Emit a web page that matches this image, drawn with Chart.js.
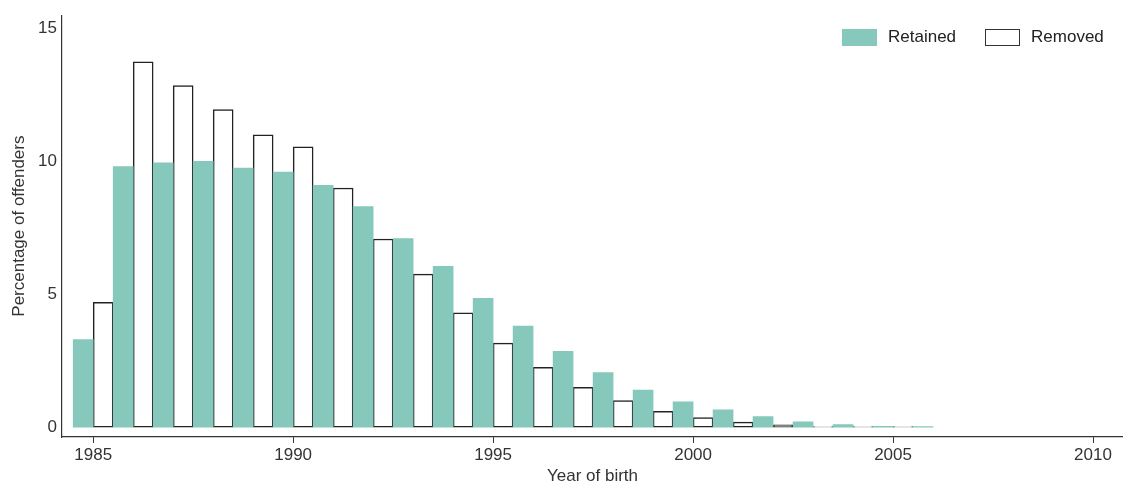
<!DOCTYPE html>
<html>
<head>
<meta charset="utf-8">
<script src="https://cdn.jsdelivr.net/npm/chart.js@4"></script>
<style>
  html, body { margin: 0; padding: 0; background: #fff; }
  #wrap { position: relative; width: 1123px; height: 483px; }
  #legend { position: absolute; top: 27px; left: 842px; font: 17px "Liberation Sans", Arial, sans-serif; color: #222; white-space: nowrap; }
  #legend span.item { display: inline-block; margin-right: 29px; }
  #legend span.box { display: inline-block; width: 35px; height: 17px; vertical-align: middle; margin-right: 11px; box-sizing: border-box; }
</style>
</head>
<body>
<div id="wrap">
  <canvas id="birthChart" width="1123" height="483"></canvas>
  <div id="legend"></div>
</div>
<script>
// year of birth and percentage of offenders per group
var years = [1985, 1986, 1987, 1988, 1989, 1990, 1991, 1992, 1993, 1994, 1995,
             1996, 1997, 1998, 1999, 2000, 2001, 2002, 2003, 2004, 2005, 2006];
var retained = [3.3, 9.8, 9.95, 10.0, 9.75, 9.6, 9.1, 8.3, 7.1, 6.05, 4.85,
                3.8, 2.85, 2.05, 1.4, 0.95, 0.65, 0.4, 0.2, 0.1, 0.03, 0.02];
var removed = [4.7, 13.75, 12.85, 11.95, 11.0, 10.55, 9.0, 7.08, 5.76, 4.3, 3.16,
               2.25, 1.5, 1.0, 0.6, 0.36, 0.19, 0.09, 0.02, 0.02, 0.02, null];
var seriesNames = ['Retained', 'Removed'];
var xTicks = [1985, 1990, 1995, 2000, 2005, 2010];
var yTicks = [0, 5, 10, 15];

var font = '"Liberation Sans", Arial, sans-serif';
var ink = '#333';

function points(values) {
    return years.map(function (yr, i) { return { x: yr, y: values[i] }; });
}

var ctx = document.getElementById('birthChart').getContext('2d');
var chart = new Chart(ctx, {
    type: 'bar',
    data: {
        datasets: [{
            label: seriesNames[0],
            data: points(retained),
            backgroundColor: '#86c8bb',
            borderWidth: 0,
            categoryPercentage: 1,
            barPercentage: 1
        }, {
            label: seriesNames[1],
            data: points(removed),
            backgroundColor: '#ffffff',
            borderColor: '#222',
            borderWidth: 1.5,
            borderSkipped: false,
            categoryPercentage: 1,
            barPercentage: 1
        }]
    },
    options: {
        responsive: false,
        animation: false,
        layout: { padding: { top: 13, left: 0, right: 0, bottom: 0 } },
        plugins: { legend: { display: false }, tooltip: { enabled: false } },
        scales: {
            x: {
                type: 'linear',
                offset: false,
                min: 1984.22,
                max: 2010.75,
                afterFit: function (s) { s.height = 46; },
                afterBuildTicks: function (s) { s.ticks = xTicks.map(function (v) { return { value: v }; }); },
                grid: { display: true, offset: false, drawOnChartArea: false, drawTicks: true, tickLength: 6, color: ink },
                border: { display: true, color: ink, width: 1.2 },
                ticks: {
                    padding: 2,
                    color: ink,
                    font: { family: font, size: 17 },
                    maxRotation: 0,
                    callback: function (v) { return String(v); }
                },
                title: {
                    display: true,
                    text: 'Year of birth',
                    color: ink,
                    font: { family: font, size: 17, lineHeight: 0.8 },
                    padding: { top: 0, bottom: 0 }
                }
            },
            y: {
                min: -0.37,
                max: 15.5,
                afterFit: function (s) { s.width = 62; },
                afterBuildTicks: function (s) { s.ticks = yTicks.map(function (v) { return { value: v }; }); },
                grid: { display: false, drawTicks: false },
                border: { display: true, color: ink, width: 1.2 },
                ticks: {
                    padding: 5,
                    color: ink,
                    font: { family: font, size: 17 },
                    callback: function (v) { return String(v); }
                },
                title: {
                    display: true,
                    text: 'Percentage of offenders',
                    color: ink,
                    font: { family: font, size: 17, lineHeight: 1 },
                    padding: { top: 11, bottom: 0 }
                }
            }
        }
    }
});

// legend built from the datasets
var legend = document.getElementById('legend');
chart.data.datasets.forEach(function (ds) {
    var item = document.createElement('span');
    item.className = 'item';
    var box = document.createElement('span');
    box.className = 'box';
    box.style.background = ds.backgroundColor;
    if (ds.borderWidth) box.style.border = '1px solid #333';
    item.appendChild(box);
    item.appendChild(document.createTextNode(ds.label));
    legend.appendChild(item);
});
</script>
</body>
</html>
